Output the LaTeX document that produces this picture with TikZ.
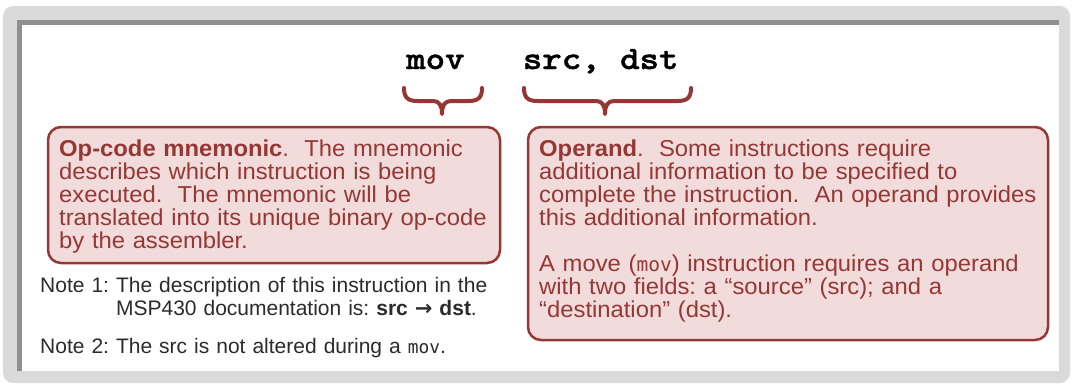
\documentclass[tikz,border=0pt]{standalone}
\usepackage{fontspec}
\setmainfont{Liberation Sans}
\newfontfamily\boxfont[FakeStretch=1.035]{Liberation Sans}
\newfontfamily\notefont{Liberation Sans}
\newfontfamily\headmono[FakeStretch=1.14,FakeBold=1.2]{lmmonolt10-bold.otf}
\newfontfamily\inmono[Scale=0.85]{DejaVu Sans Mono}
\newfontfamily\arrowfont{DejaVu Sans}
\frenchspacing
\definecolor{accentred}{HTML}{953735}
\definecolor{boxfill}{HTML}{F2DCDB}
\definecolor{framegray}{HTML}{DADADA}
\definecolor{framedark}{HTML}{8F8F8F}
\definecolor{notegray}{HTML}{2B2B2B}
\tikzset{
  infobox/.style={draw=accentred, fill=boxfill, line width=2.5pt, rounded corners=13pt, inner sep=0pt},
  boxtext/.style={anchor=base west, inner sep=0pt, text width=560pt, align=left, text=accentred,
    font=\boxfont\fontsize{23}{23}\selectfont},
  notetext/.style={anchor=base west, inner sep=0pt, text width=560pt, align=left, text=notegray,
    font=\notefont\fontsize{21}{23}\selectfont},
  headtext/.style={anchor=base west, inner sep=0pt, font=\headmono\fontsize{32.5}{36}\selectfont},
  bracepath/.style={draw=accentred, line width=4pt, line cap=round, line join=round}
}
\begin{document}
\begin{tikzpicture}[x=1pt,y=-1pt]
\useasboundingbox (0,0) rectangle (1074,384);
% frame
\fill[framegray, rounded corners=10pt] (3,6) rectangle (1070,383);
\fill[framedark] (17,20) rectangle (1059,371);
\fill[white] (22,25) rectangle (1059,371);
% instruction
\node[headtext] (instr) at (406,69) {mov\ \ \ src, dst};
% braces
\draw[bracepath] (404,88) .. controls (404,98) and (408,101) .. (418,101) -- (433,101)
  .. controls (439,101) and (442,105) .. (442,114)
  .. controls (442,105) and (445,101) .. (451,101) -- (468,101)
  .. controls (478,101) and (482,98) .. (482,88);
\draw[bracepath] (524,88) .. controls (524,98) and (528,101) .. (538,101) -- (596,101)
  .. controls (602,101) and (605,105) .. (605,114)
  .. controls (605,105) and (608,101) .. (614,101) -- (677,101)
  .. controls (687,101) and (691,98) .. (691,88);
% boxes
\node[infobox, minimum width=452pt, minimum height=136pt] (opbox) at (274,195) {};
\node[infobox, minimum width=520pt, minimum height=213pt] (operandbox) at (788,233.5) {};
\node[boxtext] (optext) at (59,156) {\textbf{Op-code mnemonic}.\ \ The mnemonic\\
describes which instruction is being\\
executed.\ \ The mnemonic will be\\
translated into its unique binary op-code\\
by the assembler.};
\node[boxtext] (operandtext) at (539,156) {\textbf{Operand}.\ \ Some instructions require\\
additional information to be specified to\\
complete the instruction.\ \ An operand provides\\
this additional information.};
\node[boxtext] (movtext) at (539,271) {A move ({\inmono mov}) instruction requires an operand\\
with two fields: a “source” (src); and a\\
“destination” (dst).};
% notes
\node[notetext] (note1) at (40,292) {Note 1: The description of this instruction in the\\
\hphantom{Note 1: }MSP430 documentation is: \textbf{src {\arrowfont →} dst}.};
\node[notetext] (note2) at (40,353) {Note 2: The src is not altered during a {\inmono mov}.};
\end{tikzpicture}
\end{document}
